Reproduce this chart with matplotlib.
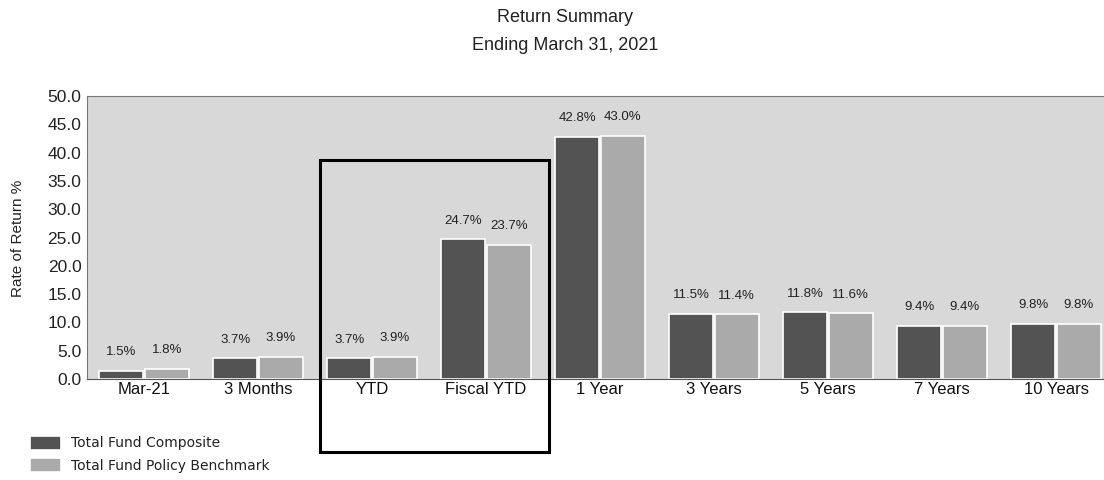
import matplotlib
matplotlib.use("Agg")
import matplotlib.pyplot as plt
from matplotlib.patches import Rectangle
import numpy as np

categories = ["Mar-21", "3 Months", "YTD", "Fiscal YTD", "1 Year", "3 Years", "5 Years", "7 Years", "10 Years"]
composite = [1.5, 3.7, 3.7, 24.7, 42.8, 11.5, 11.8, 9.4, 9.8]
benchmark = [1.8, 3.9, 3.9, 23.7, 43.0, 11.4, 11.6, 9.4, 9.8]
series_names = ["Total Fund Composite", "Total Fund Policy Benchmark"]
yticks = [0, 5, 10, 15, 20, 25, 30, 35, 40, 45, 50]

plt.rcParams['font.family'] = ['Liberation Sans', 'DejaVu Sans']

W, H = 1104, 480
fig = plt.figure(figsize=(W / 100, H / 100), dpi=100)
fig.patch.set_facecolor('white')

left, bottom, top = 87 / W, 1 - 379 / H, 1 - 96 / H
ax = fig.add_axes([left, bottom, 1026 / W, top - bottom])
ax.set_facecolor('#d8d8d8')

x = np.arange(len(categories))
bw = 0.39
dark, light = '#535353', '#aaaaaa'
b1 = ax.bar(x - 0.2, composite, bw, color=dark, edgecolor='white', linewidth=1.2, label=series_names[0])
b2 = ax.bar(x + 0.2, benchmark, bw, color=light, edgecolor='white', linewidth=1.2, label=series_names[1])

for xs, vals in ((x - 0.2, composite), (x + 0.2, benchmark)):
    for xi, v in zip(xs, vals):
        ax.annotate(f"{v:.1f}%", (xi, v), xytext=(0, 9), textcoords='offset points',
                    ha='center', va='bottom', fontsize=9.5, color='#222222')

ax.set_xlim(-0.5, 8.5)
ax.set_ylim(0, 50)
ax.set_yticks(yticks)
ax.set_yticklabels([f"{t:.1f}" for t in yticks], fontsize=12.5, color='#222222')
ax.set_xticks(x)
ax.set_xticklabels(categories, fontsize=12, color='#111111')
ax.tick_params(axis='both', length=0, pad=4)
ax.tick_params(axis='x', pad=2)
for s in ('left', 'top'):
    ax.spines[s].set_color('#777777')
ax.spines['bottom'].set_color('#555555')
ax.spines['right'].set_visible(False)

fig.text(18 / W, 1 - 238 / H, "Rate of Return %", rotation=90, ha='center', va='center',
         fontsize=11, color='#222222')

fig.text(565 / W, 1 - 18 / H, "Return Summary", ha='center', va='center', fontsize=13, color='#222222')
fig.text(565 / W, 1 - 45 / H, "Ending March 31, 2021", ha='center', va='center', fontsize=13, color='#222222')

leg = fig.legend(handles=[b1, b2], loc='upper left', bbox_to_anchor=(17 / W, 1 - 423 / H),
                 frameon=False, prop={'family': 'DejaVu Sans', 'size': 10},
                 handlelength=2.3, handleheight=1.2,
                 handletextpad=0.7, labelspacing=0.55)
for t in leg.get_texts():
    t.set_color('#222222')

rect = Rectangle((320 / W, 1 - 452 / H), (549 - 320) / W, (452 - 160) / H,
                 transform=fig.transFigure, fill=False, edgecolor='black', linewidth=2.2,
                 clip_on=False)
fig.add_artist(rect)

fig.savefig("out.png", dpi=100)
